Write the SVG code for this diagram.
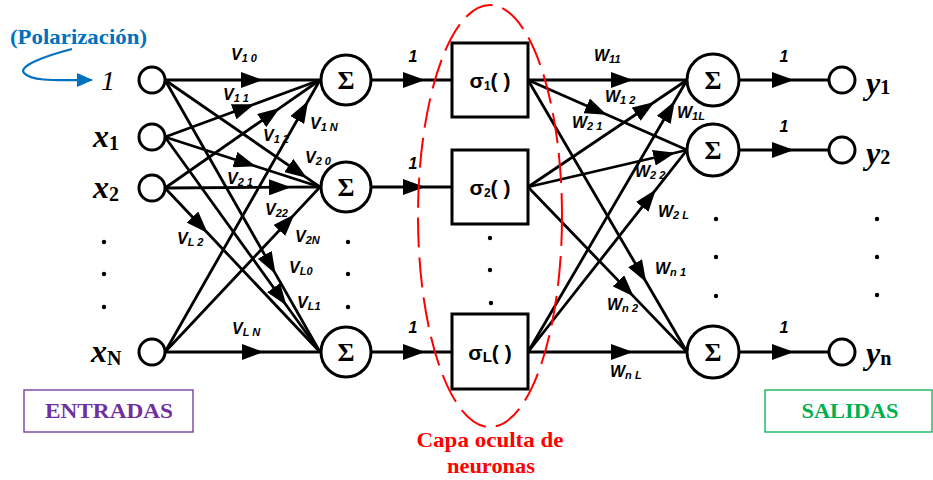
<svg xmlns="http://www.w3.org/2000/svg" width="933" height="480" viewBox="0 0 933 480">
<defs>
<marker id="ah" markerUnits="userSpaceOnUse" markerWidth="22" markerHeight="16" viewBox="0 0 22 16" refX="21" refY="8" orient="auto"><path d="M0,0 L22,8 L0,16 z" fill="#000"/></marker>
<marker id="bh" markerUnits="userSpaceOnUse" markerWidth="16" markerHeight="14" viewBox="0 0 16 14" refX="15" refY="7" orient="auto"><path d="M0,0 L16,7 L0,14 z" fill="#0070c0"/></marker>
</defs>
<style>
.ln{fill:none;stroke:#000;stroke-width:2.8;marker-mid:url(#ah)}
.nd{fill:#fff;stroke:#000;stroke-width:3}
.sig{font-family:"Liberation Serif",serif;font-weight:bold;font-size:26px;text-anchor:middle}
.box{font-family:"Liberation Sans",sans-serif;font-weight:bold;font-size:21px;text-anchor:middle}
.wl{font-family:"Liberation Sans",sans-serif;font-weight:bold;font-style:italic;font-size:16px}
.sub{font-size:11px}
.one{font-family:"Liberation Sans",sans-serif;font-weight:bold;font-style:italic;font-size:16px;text-anchor:middle}
.var{font-family:"Liberation Serif",serif;font-weight:bold;font-style:italic;font-size:32px}
.vs{font-style:normal;font-size:20px}
.dot{fill:#000}
.cap{font-family:"Liberation Serif",serif;font-weight:bold}
</style>
<rect width="933" height="480" fill="#fff"/>

<g id="connectors">
<path class="ln" d="M165,80 L262,80 L320,80"/>
<path class="ln" d="M165,137 L253.4,104.5 L320,80"/>
<path class="ln" d="M165,188 L278.9,108.6 L320,80"/>
<path class="ln" d="M165,352 L307.6,101.8 L320,80"/>
<path class="ln" d="M165,80 L306.1,177.4 L320,187"/>
<path class="ln" d="M165,137 L254.9,166 L320,187"/>
<path class="ln" d="M165,188 L290,187.2 L320,187"/>
<path class="ln" d="M165,352 L293.7,215.1 L320,187"/>
<path class="ln" d="M165,80 L275.1,273.1 L320,352"/>
<path class="ln" d="M165,137 L285.9,304.7 L320,352"/>
<path class="ln" d="M165,188 L206.9,232.3 L320,352"/>
<path class="ln" d="M165,352 L262.7,352 L320,352"/>
<path class="ln" d="M371,80 L424,80 L452,80"/>
<path class="ln" d="M371,187 L424,187 L452,187"/>
<path class="ln" d="M371,352 L424,352 L452,352"/>
<path class="ln" d="M528,80 L632,80 L687,80"/>
<path class="ln" d="M528,80 L605.9,114.3 L687,150"/>
<path class="ln" d="M528,80 L645.7,281.3 L687,352"/>
<path class="ln" d="M528,187 L653.6,102.5 L687,80"/>
<path class="ln" d="M528,187 L674.3,153 L687,150"/>
<path class="ln" d="M528,187 L633,295.9 L687,352"/>
<path class="ln" d="M528,352 L674.3,101.8 L687,80"/>
<path class="ln" d="M528,352 L655.2,190.4 L687,150"/>
<path class="ln" d="M528,352 L632,352 L687,352"/>
<path class="ln" d="M739,80 L793,80 L829,80"/>
<path class="ln" d="M739,150 L793,150 L829,150"/>
<path class="ln" d="M739,352 L793,352 L829,352"/>
<path d="M72,49 C45,56 18,66 24,73 C32,82 60,80 92,80" fill="none" stroke="#0070c0" stroke-width="2.2" marker-end="url(#bh)"/>
</g>

<g id="inputs">
<circle class="nd" cx="152" cy="80" r="13"/>
<circle class="nd" cx="152" cy="137" r="13"/>
<circle class="nd" cx="152" cy="188" r="13"/>
<circle class="nd" cx="152" cy="352" r="13"/>
<text x="101" y="90" font-family="Liberation Serif,serif" font-style="italic" font-size="28">1</text>
<text class="var" x="93" y="147">x<tspan class="vs" dy="3">1</tspan></text>
<text class="var" x="93" y="198">x<tspan class="vs" dy="3">2</tspan></text>
<text class="var" x="91" y="362">x<tspan class="vs" dy="3">N</tspan></text>
<circle class="dot" cx="104" cy="242" r="2.2"/>
<circle class="dot" cx="104" cy="274" r="2.2"/>
<circle class="dot" cx="104" cy="307" r="2.2"/>
</g>

<g id="polarizacion">
<text class="cap" x="10" y="44" font-size="22" fill="#0070c0" textLength="137" lengthAdjust="spacingAndGlyphs">(Polarización)</text>
</g>

<g id="hidden-sums">
<circle class="nd" cx="346" cy="80" r="25"/>
<circle class="nd" cx="346" cy="187" r="25"/>
<circle class="nd" cx="346" cy="352" r="25"/>
<text class="sig" x="346" y="89">Σ</text>
<text class="sig" x="346" y="196">Σ</text>
<text class="sig" x="346" y="361">Σ</text>
<circle class="dot" cx="348" cy="242" r="2.2"/>
<circle class="dot" cx="348" cy="274" r="2.2"/>
<circle class="dot" cx="348" cy="307" r="2.2"/>
</g>

<g id="activations">
<rect class="nd" x="452" y="43" width="76" height="74"/>
<rect class="nd" x="452" y="150" width="76" height="74"/>
<rect class="nd" x="452" y="314" width="76" height="75"/>
<text class="box" x="490" y="88">σ<tspan font-size="12" dy="2">1</tspan><tspan dy="-2">( )</tspan></text>
<text class="box" x="490" y="195">σ<tspan font-size="12" dy="2">2</tspan><tspan dy="-2">( )</tspan></text>
<text class="box" x="490" y="360">σ<tspan font-size="15" dy="2">L</tspan><tspan dy="-2">( )</tspan></text>
<circle class="dot" cx="490" cy="238" r="2.2"/>
<circle class="dot" cx="490" cy="270" r="2.2"/>
<circle class="dot" cx="491" cy="303" r="2.2"/>
</g>

<g id="hidden-layer">
<ellipse cx="490" cy="216" rx="72" ry="211" fill="none" stroke="#ff0000" stroke-width="2" stroke-dasharray="30 10"/>
<text class="cap" x="490" y="447" font-size="22" fill="#ff0000" text-anchor="middle" textLength="147" lengthAdjust="spacingAndGlyphs">Capa oculta de</text>
<text class="cap" x="491" y="473" font-size="22" fill="#ff0000" text-anchor="middle" textLength="88" lengthAdjust="spacingAndGlyphs">neuronas</text>
</g>

<g id="output-sums">
<circle class="nd" cx="713" cy="80" r="26"/>
<circle class="nd" cx="713" cy="150" r="26"/>
<circle class="nd" cx="713" cy="352" r="26"/>
<text class="sig" x="713" y="89">Σ</text>
<text class="sig" x="713" y="159">Σ</text>
<text class="sig" x="713" y="361">Σ</text>
<circle class="dot" cx="716" cy="219" r="2.2"/>
<circle class="dot" cx="716" cy="257" r="2.2"/>
<circle class="dot" cx="716" cy="296" r="2.2"/>
</g>

<g id="outputs">
<circle class="nd" cx="842" cy="80" r="13"/>
<circle class="nd" cx="842" cy="150" r="13"/>
<circle class="nd" cx="842" cy="352" r="13"/>
<text class="var" x="866" y="94">y<tspan class="vs" dy="0">1</tspan></text>
<text class="var" x="866" y="164">y<tspan class="vs" dy="0">2</tspan></text>
<text class="var" x="866" y="364">y<tspan class="vs" dy="1">n</tspan></text>
<circle class="dot" cx="877" cy="219" r="2.2"/>
<circle class="dot" cx="877" cy="257" r="2.2"/>
<circle class="dot" cx="877" cy="295" r="2.2"/>
</g>

<g id="weight-labels">
<text class="wl" x="231" y="60">V<tspan class="sub" dy="2">1 0</tspan></text>
<text class="wl" x="223" y="100">V<tspan class="sub" dy="2">1 1</tspan></text>
<text class="wl" x="263" y="141">V<tspan class="sub" dy="2">1 2</tspan></text>
<text class="wl" x="310" y="129">V<tspan class="sub" dy="2">1 N</tspan></text>
<text class="wl" x="305" y="163">V<tspan class="sub" dy="2">2 0</tspan></text>
<text class="wl" x="227" y="184">V<tspan class="sub" dy="2">2 1</tspan></text>
<text class="wl" x="265" y="215">V<tspan class="sub" dy="2">22</tspan></text>
<text class="wl" x="295" y="242">V<tspan class="sub" dy="2">2N</tspan></text>
<text class="wl" x="177" y="244">V<tspan class="sub" dy="2">L 2</tspan></text>
<text class="wl" x="289" y="273">V<tspan class="sub" dy="2">L0</tspan></text>
<text class="wl" x="297" y="308">V<tspan class="sub" dy="2">L1</tspan></text>
<text class="wl" x="232" y="334">V<tspan class="sub" dy="2">L N</tspan></text>
<text class="wl" x="594" y="61">W<tspan class="sub" dy="2">11</tspan></text>
<text class="wl" x="605" y="102">W<tspan class="sub" dy="2">1 2</tspan></text>
<text class="wl" x="572" y="128">W<tspan class="sub" dy="2">2 1</tspan></text>
<text class="wl" x="677" y="118">W<tspan class="sub" dy="2">1L</tspan></text>
<text class="wl" x="635" y="177">W<tspan class="sub" dy="2">2 2</tspan></text>
<text class="wl" x="658" y="217">W<tspan class="sub" dy="2">2 L</tspan></text>
<text class="wl" x="655" y="274">W<tspan class="sub" dy="2">n 1</tspan></text>
<text class="wl" x="607" y="310">W<tspan class="sub" dy="2">n 2</tspan></text>
<text class="wl" x="610" y="377">W<tspan class="sub" dy="2">n L</tspan></text>
<text class="one" x="413" y="62">1</text>
<text class="one" x="413" y="169">1</text>
<text class="one" x="413" y="333">1</text>
<text class="one" x="784" y="62">1</text>
<text class="one" x="784" y="132">1</text>
<text class="one" x="784" y="333">1</text>
</g>

<g id="entradas">
<rect x="24" y="390" width="169" height="42" fill="#fff" stroke="#7030a0" stroke-width="1.3"/>
<text class="cap" x="109" y="418" font-size="22" fill="#7030a0" text-anchor="middle" textLength="128" lengthAdjust="spacingAndGlyphs">ENTRADAS</text>
</g>

<g id="salidas">
<rect x="765" y="390" width="167" height="42" fill="#fff" stroke="#00b050" stroke-width="1.3"/>
<text class="cap" x="850" y="418" font-size="22" fill="#00b050" text-anchor="middle" textLength="97" lengthAdjust="spacingAndGlyphs">SALIDAS</text>
</g>
</svg>
